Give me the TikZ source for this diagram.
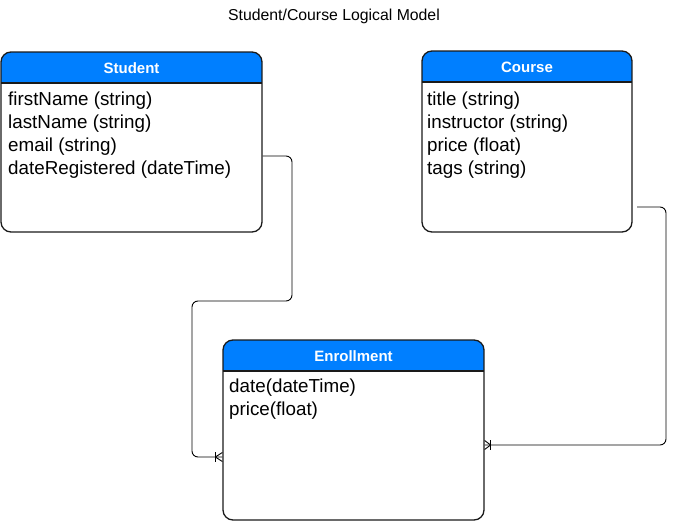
\documentclass[tikz,border=0pt]{standalone}
\usepackage{fontspec}
\setmainfont{Liberation Sans}
\definecolor{hdr}{HTML}{007FFF}
\definecolor{edge}{HTML}{1A1A1A}
\tikzset{
  entity/.style={draw=edge, line width=1.3pt, rounded corners=10pt, inner sep=0pt},
  hdrtext/.style={text=white, font=\fontsize{15}{18}\selectfont\bfseries, inner sep=0pt},
  attrs/.style={align=left, anchor=north west, inner sep=0pt, font=\fontsize{18.8}{23}\selectfont},
  titletext/.style={font=\fontsize{15.8}{18}\selectfont, inner sep=0pt},
  conn/.style={draw=black, line width=0.9pt, rounded corners=6pt},
  foot/.style={draw=black, line width=0.9pt}
}
\newcommand{\entitybox}[6]{%
  % #1 name, #2 x1, #3 y1 (top), #4 x2, #5 y2 (bottom), #6 header text
  \begin{scope}
    \clip[rounded corners=10pt] (#2,#3) rectangle (#4,#5);
    \fill[hdr] (#2,#3) rectangle (#4,#3+31);
  \end{scope}
  \node[entity, minimum width=#4-#2, minimum height=#5-#3] (#1) at ({(#2+#4)/2},{(#3+#5)/2}) {};
  \draw[edge, line width=1.3pt] (#2,#3+31) -- (#4,#3+31);
  \node[hdrtext] (#1hdr) at ({(#2+#4)/2},#3+16) {#6};
}
\begin{document}
\begin{tikzpicture}[x=1pt, y=-1pt]
\useasboundingbox (0,0) rectangle (675,522);

\node[titletext] (title) at (334,16) {Student/Course Logical Model};

\entitybox{student}{1}{52}{262}{232}{Student}
\entitybox{course}{422}{51}{632}{232}{Course}
\entitybox{enroll}{223}{340}{484}{520}{Enrollment}

\node[attrs] (sattr) at (8,92) {firstName (string)\\lastName (string)\\email (string)\\dateRegistered (dateTime)};
\node[attrs] (cattr) at (427,92) {title (string)\\instructor (string)\\price (float)\\tags (string)};
\node[attrs] (eattr) at (229,379) {date(dateTime)\\price(float)};

% connector Student -> Enrollment
\coordinate (s1) at (student.east |- 0,156);
\coordinate (s2) at (292,156);
\coordinate (s3) at (292,301);
\coordinate (s4) at (192,301);
\coordinate (s5) at (192,457);
\coordinate (s6) at (enroll.west |- 0,457);
\draw[conn] (s1) -- (s2) -- (s3) -- (s4) -- (s5) -- (s6);
\draw[foot] ([xshift=-7pt]s6) ++(0,-5) -- ++(0,10);
\draw[foot] ([xshift=-7pt]s6) -- ([yshift=-4.5pt]s6);
\draw[foot] ([xshift=-7pt]s6) -- ([yshift=4.5pt]s6);

% connector Course -> Enrollment
\coordinate (c1) at (637,207);
\coordinate (c2) at (666,207);
\coordinate (c3) at (666,445);
\coordinate (c4) at (enroll.east |- 0,445);
\draw[conn] (c1) -- (c2) -- (c3) -- (c4);
\draw[foot] ([xshift=6pt]c4) ++(0,-5) -- ++(0,10);
\draw[foot] ([xshift=6pt]c4) -- ([yshift=-4.5pt]c4);
\draw[foot] ([xshift=6pt]c4) -- ([yshift=4.5pt]c4);
\end{tikzpicture}
\end{document}
